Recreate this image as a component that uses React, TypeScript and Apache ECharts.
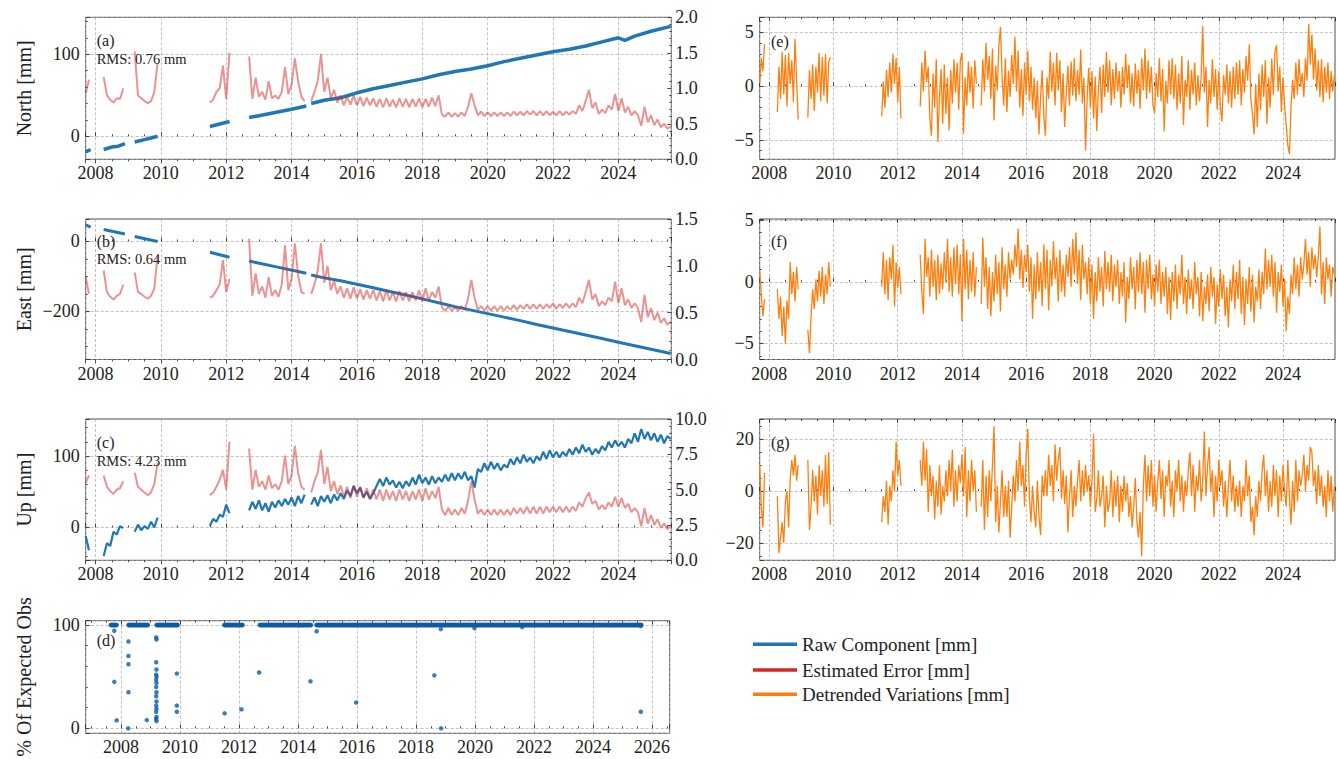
import React, { useEffect, useRef } from "react";
import * as echarts from "echarts";

// ---------------- DATA ----------------
// start year of each continuous data segment (gaps between them)
const SEG_START = [2007.7, 2008.25, 2009.2, 2011.5, 2012.7, 2014.6];
const STEP_FINE = 0.05;
const STEP_MED = 0.1;

// Raw North / East components [year, mm]
const RAW_NORTH = [
  [[2007.7, -19], [2007.85, -16]],
  [[2008.25, -16], [2008.5, -13], [2008.7, -12], [2008.9, -9]],
  [[2009.2, -7], [2009.5, -4], [2009.7, -2], [2009.9, 0]],
  [[2011.5, 12], [2011.8, 15], [2012.1, 18]],
  [[2012.7, 23], [2013.0, 25], [2013.5, 29], [2014.0, 33], [2014.45, 37]],
  [[2014.6, 40], [2015.0, 44], [2015.5, 47], [2016.0, 53], [2016.5, 58], [2017.0, 62], [2017.5, 66], [2018.0, 70], [2018.5, 75], [2019.0, 79], [2019.5, 82], [2020.0, 86], [2020.5, 91], [2021.0, 95], [2021.5, 99], [2022.0, 103], [2022.5, 106], [2023.0, 110], [2023.5, 115], [2024.0, 120], [2024.2, 117], [2024.5, 122], [2025.0, 128], [2025.6, 134]],
];
const RAW_EAST = [
  [[2007.7, 47], [2007.85, 41]],
  [[2008.25, 34], [2008.9, 21]],
  [[2009.2, 14], [2009.9, 0]],
  [[2011.5, -31], [2012.1, -45]],
  [[2012.7, -56], [2013.5, -72], [2014.45, -91]],
  [[2014.6, -96], [2015.0, -104], [2015.5, -112], [2016.0, -122], [2016.5, -132], [2017.0, -143], [2017.5, -153], [2018.0, -164], [2018.5, -175], [2019.0, -186], [2019.5, -196], [2020.0, -206], [2020.5, -216], [2021.0, -226], [2021.5, -237], [2022.0, -247], [2022.5, -257], [2023.0, -267], [2023.5, -277], [2024.0, -288], [2024.5, -298], [2025.0, -308], [2025.6, -320]],
];
// Raw Up, sampled every 0.1 yr per segment
const RAW_UP = [
  [-12, -32],
  [-40, -22, -26, -6, -10, 2, -1],
  [-6, 4, -4, 2, -2, 8, 0, 14],
  [2, 12, 8, 18, 15, 32, 20],
  [24, 36, 26, 38, 24, 34, 22, 36, 28, 38, 30, 40, 32, 42, 30, 44, 34, 46],
  [32, 42, 30, 44, 36, 45, 34, 46, 38, 48,
   40, 52, 44, 58, 48, 56, 42, 50, 40, 48,
   58, 68, 58, 70, 60, 66, 56, 64, 55, 65,
   58, 70, 60, 74, 62, 70, 60, 72, 62, 70,
   64, 74, 65, 76, 66, 76, 68, 78, 66, 72,
   56, 82, 78, 90, 80, 92, 82, 90, 80, 88,
   84, 96, 88, 98, 90, 102, 92, 98, 90, 100,
   94, 106, 96, 108, 98, 106, 98, 106, 100, 110,
   102, 112, 104, 116, 106, 112, 102, 110, 104, 114,
   108, 120, 112, 122, 114, 120, 112, 124, 118, 132,
   120, 138, 124, 134, 122, 132, 120, 130, 118, 128,
   124],
];

// Estimated errors (right axes), sampled every 0.1 yr per segment
const ERR_NORTH = [
  [0.93, 1.12],
  [1.16, 0.9, 0.84, 0.8, 0.86, 0.85, 1.0],
  [1.52, 0.9, 0.86, 0.82, 0.79, 0.82, 0.95, 1.36],
  [0.8, 0.84, 0.95, 1.0, 1.32, 0.85, 1.5],
  [1.45, 0.85, 1.15, 0.88, 0.95, 0.84, 1.1, 0.86, 0.9, 0.85, 0.95, 1.3, 0.92, 1.05, 1.42, 1.1, 0.88, 0.82],
  [0.82, 0.95, 1.1, 1.48, 0.95, 1.15, 0.86, 0.98, 0.8, 0.9,
   0.76, 0.88, 0.77, 0.9, 0.76, 0.88, 0.75, 0.87, 0.76, 0.86,
   0.74, 0.85, 0.73, 0.86, 0.74, 0.84, 0.73, 0.86, 0.74, 0.85,
   0.73, 0.85, 0.74, 0.86, 0.73, 0.85, 0.74, 0.87, 0.75, 0.9,
   0.63, 0.6, 0.66, 0.6, 0.65, 0.6, 0.66, 0.61, 0.74, 0.93,
   0.76, 0.62, 0.67, 0.61, 0.66, 0.61, 0.66, 0.61, 0.66, 0.61,
   0.66, 0.61, 0.67, 0.62, 0.67, 0.62, 0.68, 0.63, 0.68, 0.62,
   0.68, 0.62, 0.68, 0.62, 0.67, 0.62, 0.68, 0.62, 0.67, 0.63,
   0.68, 0.64, 0.76, 0.68, 0.82, 0.98, 0.72, 0.8, 0.64, 0.7,
   0.65, 0.76, 0.7, 0.92, 0.68, 0.86, 0.66, 0.74, 0.62, 0.68,
   0.62, 0.47, 0.74, 0.52, 0.62, 0.48, 0.56, 0.45, 0.5, 0.43,
   0.46],
];
const ERR_EAST = [
  [0.88, 0.7],
  [0.95, 0.72, 0.67, 0.64, 0.68, 0.7, 0.8],
  [0.93, 0.72, 0.7, 0.67, 0.65, 0.68, 0.76, 1.1],
  [0.66, 0.68, 0.74, 0.8, 1.06, 0.72, 0.86],
  [1.29, 0.68, 0.92, 0.7, 0.78, 0.66, 0.88, 0.68, 0.74, 0.67, 0.8, 1.22, 0.74, 0.86, 1.24, 0.9, 0.72, 0.7],
  [0.7, 0.8, 0.95, 1.24, 0.82, 1.0, 0.74, 0.84, 0.7, 0.78,
   0.66, 0.76, 0.65, 0.77, 0.65, 0.75, 0.64, 0.74, 0.65, 0.74,
   0.63, 0.73, 0.62, 0.74, 0.63, 0.72, 0.62, 0.73, 0.63, 0.72,
   0.62, 0.72, 0.63, 0.74, 0.62, 0.76, 0.63, 0.72, 0.66, 0.78,
   0.56, 0.52, 0.57, 0.52, 0.56, 0.52, 0.57, 0.53, 0.65, 0.85,
   0.66, 0.53, 0.57, 0.52, 0.57, 0.52, 0.57, 0.52, 0.57, 0.52,
   0.57, 0.53, 0.58, 0.53, 0.58, 0.54, 0.59, 0.54, 0.59, 0.54,
   0.59, 0.54, 0.59, 0.55, 0.6, 0.54, 0.59, 0.55, 0.6, 0.55,
   0.6, 0.56, 0.66, 0.6, 0.72, 0.85, 0.64, 0.7, 0.57, 0.62,
   0.58, 0.66, 0.62, 0.83, 0.6, 0.76, 0.58, 0.64, 0.55, 0.6,
   0.55, 0.4, 0.69, 0.45, 0.55, 0.42, 0.5, 0.39, 0.44, 0.37,
   0.4],
];
const ERR_UP = [
  [5.5, 6.0],
  [6.0, 5.2, 4.9, 4.7, 5.0, 5.1, 5.6],
  [6.2, 5.2, 5.0, 4.8, 4.6, 4.8, 5.4, 6.9],
  [4.6, 4.8, 5.2, 5.7, 6.4, 5.0, 8.4],
  [7.9, 5.0, 6.4, 5.2, 5.6, 5.0, 6.0, 5.1, 5.4, 5.0, 5.6, 7.4, 5.4, 6.0, 8.1, 6.2, 5.2, 5.0],
  [4.8, 5.6, 6.2, 7.8, 5.4, 6.6, 4.9, 5.6, 4.7, 5.3,
   4.5, 5.2, 4.4, 5.3, 4.5, 5.2, 4.4, 5.1, 4.4, 5.0,
   4.3, 5.0, 4.2, 5.0, 4.3, 4.9, 4.2, 5.0, 4.3, 4.9,
   4.2, 4.9, 4.3, 5.0, 4.2, 5.1, 4.3, 4.9, 4.4, 5.2,
   3.6, 3.2, 3.7, 3.2, 3.6, 3.2, 3.7, 3.3, 4.2, 5.6,
   4.3, 3.3, 3.6, 3.2, 3.6, 3.2, 3.6, 3.2, 3.6, 3.2,
   3.6, 3.2, 3.7, 3.3, 3.7, 3.3, 3.8, 3.3, 3.8, 3.3,
   3.8, 3.3, 3.8, 3.4, 3.8, 3.4, 3.8, 3.4, 3.8, 3.4,
   3.8, 3.5, 4.1, 3.8, 4.4, 4.8, 4.0, 4.2, 3.6, 3.9,
   3.6, 4.1, 3.8, 4.5, 3.8, 4.4, 3.7, 4.0, 3.4, 3.7,
   3.4, 2.4, 3.7, 2.6, 3.2, 2.5, 2.9, 2.3, 2.6, 2.2,
   2.4],
];

// Detrended variations, sampled every 0.05 yr per segment
const DET_NORTH = [
  [0.3, 2.6, 1.4, 3.9],
  [-2.4, 1.8, -1.2, 3.2, -0.8, 2.9, -1.9, 3.1, 0.2, 2.4, -1.5, 4.4, 0.5, -3.1],
  [-2.9, 1.5, -1.2, 2.0, -2.3, 1.8, -0.6, 3.1, -1.4, 2.7, -0.9, 3.0, -1.6, 2.2, 2.7],
  [-2.8, 0.4, -2.0, 1.5, -1.0, 2.2, -0.6, 3.0, 0.2, 2.6, -1.5, 1.8, -3.0],
  [-1.9, 2.2, -0.5, 3.3, 0.4, 1.8, -3.0, -4.6, 1.2, -2.0, 2.5, -5.2, -1.0, 1.6, -3.5, 2.0, -2.6, 0.8, -4.1, 1.5, -1.6, 2.5, -0.6, 2.2, -2.2, 2.4, 3.1, -4.4, 0.8, -1.8, 2.3, -0.6, 1.8, -2.1, 2.4, 0.2],
  [-1.8, 2.5, -0.5, 4.0, 0.6, 2.8, -1.2, 3.5, -3.2, 1.9, -0.4, 3.8, 5.5, 0.9, -1.8, 2.6, -2.4, 1.4, -1.0, 2.9,
   0.2, 4.6, -0.5, 3.3, -2.0, 1.6, -2.8, 2.2, -0.8, 3.3, -1.4, 1.8, -2.2, 0.8, -3.0, 0.5, -4.5, -1.0, 1.5, -2.8,
   -4.6, 0.8, -1.2, 3.2, -0.5, 2.2, -1.8, 3.1, -0.4, 2.4, -2.4, 1.2, -3.8, -0.6, 1.9, -1.8, 2.3, -0.9, 2.6, -1.4,
   1.5, -0.8, 3.4, -1.6, 0.8, -6.0, -1.0, 1.7, -2.0, 1.4, -3.0, 0.9, -4.2, -0.3, 1.8, -2.5, 2.0, -1.0, 3.2, -0.6,
   2.4, -1.8, 1.6, -1.2, 2.2, -0.5, 1.4, -2.0, 1.8, -0.8, 3.0, -0.2, 2.0, -1.6, 1.2, -1.9, 2.1, -0.7, 1.5, -2.1,
   2.6, -0.4, 3.5, -1.2, 2.4, -0.6, 1.8, -1.8, -2.5, 1.2, -1.0, 2.6, -1.4, 1.6, -4.2, 0.5, -1.6, 2.4, -0.8, 2.6,
   -1.2, 2.0, -2.2, 1.2, -1.6, 2.8, -3.6, 0.6, -1.0, 2.4, -2.2, 1.5, -0.8, 2.2, -1.8, 1.0, -1.4, 0.8, 5.6, -0.6,
   1.8, -3.8, 0.6, -1.6, 2.5, -1.0, 1.6, -2.2, 1.4, -1.8, -3.3, 1.0, -0.8, 2.0, -1.6, 1.4, -2.0, 1.8, -1.2, 2.2,
   -0.8, 2.4, -1.8, 1.6, -0.6, 2.8, 0.5, 3.9, -1.2, -2.6, -4.5, 0.2, -3.8, 1.2, -2.2, 2.0, -1.0, 2.4, -3.5, 0.8,
   -2.0, 2.6, -0.8, 3.2, 3.8, -0.5, 1.8, -2.4, 0.8, -1.8, -3.6, -5.5, -6.3, -2.0, 0.6, -1.2, 2.2, -0.8, 2.5, 0.0,
   1.2, -1.0, 2.6, 0.5, 5.8, 2.0, 4.8, 0.6, 3.5, -0.4, 2.4, -1.0, 2.5, -1.5, 1.8, -0.6, 2.2, -1.2, 1.4, -0.5,
   1.0],
];
const DET_EAST = [
  [0.9, -1.0, -2.8, -1.4],
  [-0.6, -3.0, -1.2, -4.4, -2.0, -5.0, -1.5, -3.0, 1.6, -1.0, 0.8, -1.6, 1.2, -0.6],
  [-3.9, -5.8, -2.8, -0.6, -2.2, 0.2, -1.6, 0.9, -1.2, 1.2, -1.8, 0.6, -1.0, 1.6, -0.4],
  [-0.4, 2.4, -1.0, 1.8, -1.5, 2.0, 0.2, 3.0, -2.0, 1.6, -0.5, 1.2, -1.0],
  [2.2, -0.8, -2.6, 3.5, 0.4, 2.0, -1.2, 2.6, -0.4, 1.8, -1.5, 2.2, -1.0, 1.5, -0.6, 2.4, 0.0, 3.5, -0.8, 2.0, -1.2, 2.8, -0.2, 3.0, -1.0, 2.2, -3.2, 3.5, -0.6, 2.6, -1.4, 1.8, -0.8, 2.4, -1.2, 1.2],
  [-1.8, 3.6, -0.4, 2.0, -2.2, 1.2, -2.8, 0.8, -1.6, 2.2, -1.0, 1.6, -2.4, 2.8, -0.6, 1.4, -1.2, 2.4, 0.2, 1.8,
   0.6, 3.0, 1.2, 4.3, 0.2, 2.6, -0.5, 2.2, 0.8, 3.0, -0.8, 2.0, -3.0, 1.4, -1.4, 2.4, -0.8, 1.6, -2.0, 3.0,
   -0.6, 2.6, -2.3, 1.8, -0.4, 3.3, 0.2, 2.0, -1.6, 2.6, -0.8, 1.4, -1.2, 2.2, 0.4, 2.8, -0.4, 3.5, 0.6, 4.0,
   -0.2, 2.6, -1.5, 3.0, 0.2, 1.6, -1.0, 2.0, -1.8, 1.4, -3.0, 0.8, -1.6, 2.0, -0.8, 1.2, -2.0, 2.5, -0.6, 1.6,
   -0.8, 2.2, -1.6, 1.4, -0.4, 1.8, -1.8, 0.8, -1.2, 1.6, -3.3, 0.4, -1.4, 2.0, -0.6, 1.2, -2.2, 1.8, -0.8, 2.4,
   -1.0, 1.6, -2.5, 1.8, -0.6, 2.2, -1.4, 0.6, -2.0, 1.4, -0.8, 1.8, -1.8, 0.8, -1.2, 1.2, -2.6, 0.4, -3.1, 0.8,
   -1.6, 1.4, -2.2, 0.6, -1.0, 2.2, -1.8, 0.4, -2.6, 1.0, -1.4, 0.2, -2.2, 1.6, -1.0, 0.4, -2.8, 0.8, -3.2, -0.4,
   -1.8, 0.6, -2.4, 1.2, -1.2, 0.4, -3.4, -0.2, -2.0, 1.0, -1.4, 0.6, -2.8, -0.4, -3.7, 0.2, -1.6, 1.4, -2.2, 0.8,
   -1.4, 1.8, -2.6, 0.4, -3.5, 0.2, -1.8, 1.2, -2.4, 0.6, -3.3, -0.4, -1.6, 1.0, -2.2, 0.8, -1.0, 2.7, -0.6, 1.8,
   -0.4, 2.2, -1.2, 1.6, -2.5, 0.8, -0.8, 1.4, -2.0, 0.2, -4.0, -1.2, -2.6, 0.6, -1.0, 2.0, -0.6, 1.4, -1.2, 2.0,
   0.2, 1.4, 3.5, 0.6, 2.4, -0.4, 2.8, 1.0, 2.2, 0.4, 2.0, 4.5, -1.0, 1.6, -1.8, 2.0, 0.2, 1.4, -1.2, 1.2,
   0.6],
];
const DET_UP = [
  [10, -6, -14, 7],
  [-2, -24, -18, -12, -20, -4, 0, -14, 5, 12, 6, 14, 4, 10],
  [12, -15, -6, 8, -4, 6, -9, 10, -2, 8, -6, 14, -5, 15, -13],
  [-12, -2, -8, 4, -13, 2, -4, 8, 0, 19, 6, 12, 2],
  [12, 2, 19, 4, 16, -8, 10, -2, 6, -11, 4, -6, 10, -9, 2, -4, 8, -2, 12, 0, 16, -6, 8, -4, 10, 3, 14, -2, 17, -10, 8, -4, 12, 0, 8, -8],
  [-6, 12, -15, 6, -10, 8, -4, 10, 25, -12, 2, -16, -4, 8, -10, 2, -10, 4, -18, -6,
   6, -4, 12, 0, 19, 2, 10, -6, 14, 24, -2, -12, 2, -8, -14, 4, -10, -17, 6, -2,
   8, -2, 14, 2, 10, -4, 18, 4, 12, 17, -3, 8, -5, 6, -16, -2, 8, -10, 2, -6,
   4, 12, -4, 8, -2, 10, 0, 6, -6, 4, 22, -8, -3, 8, -6, -2, 6, -14, 2, -8,
   -4, 8, -10, 4, -6, 6, -12, 2, -8, 6, -4, 3, -10, -2, -14, -6, 5, -12, -18, -8,
   -25, 2, 14, -4, 10, -2, 12, -6, 6, -8, 4, 12, -3, 8, -10, 6, 2, 12, -6, 4,
   -10, 8, 0, 12, -4, 6, -8, 4, -2, 8, 15, -2, 10, -8, 6, 0, 12, -4, 4, 23,
   -2, 10, 17, 0, 8, -10, 6, -4, 12, 2, 8, -6, 4, -10, 2, 12, -4, 6, -8, 2,
   -6, 4, -10, 2, -4, 12, -2, 6, -12, -6, -17, -2, -10, 4, -4, 8, 14, -2, 8, -8,
   4, -6, 10, -2, 8, -10, 6, -4, 10, 0, -6, 12, -2, -13, 4, -8, 12, -4, 8, 2,
   6, 14, 0, 10, 4, 17, 15, 2, 8, -5, 10, -2, 6, -6, 2, -10, 8, -4, 6, -8,
   2],
];

// % of expected observations
const OBS_FULL_RUNS = [[2007.65, 2007.86], [2008.25, 2008.92], [2009.2, 2009.92], [2011.5, 2012.12], [2012.7, 2014.45], [2014.62, 2025.65]];
const OBS_FULL_VALUE = 100;
const OBS_OUTLIERS = [
  [2007.77, 94.5], [2007.77, 45], [2007.85, 7.7], [2008.25, 84], [2008.25, 70], [2008.25, 62], [2008.25, 35], [2008.24, 0],
  [2008.87, 8], [2009.19, 88], [2009.2, 86], [2009.19, 64], [2009.2, 57], [2009.19, 52], [2009.2, 50], [2009.19, 47],
  [2009.2, 44], [2009.19, 40], [2009.2, 35], [2009.19, 31], [2009.2, 26], [2009.19, 22], [2009.2, 19], [2009.19, 16],
  [2009.2, 11], [2009.19, 9], [2009.2, 7], [2009.89, 53], [2009.89, 22], [2009.89, 16], [2011.51, 14.5], [2012.08, 18.4],
  [2012.68, 54], [2014.42, 45.5], [2014.63, 94], [2015.97, 25], [2018.62, 51.3], [2018.84, 96], [2018.85, 0],
  [2019.98, 97], [2021.6, 98], [2025.62, 99], [2025.62, 16],
];

const PANEL_TAGS = ["(a)", "(b)", "(c)", "(d)", "(e)", "(f)", "(g)"];
const RMS_TEXTS = ["RMS: 0.76 mm", "RMS: 0.64 mm", "RMS: 4.23 mm"];
const COMPONENT_NAMES = ["North [mm]", "East [mm]", "Up [mm]"];
const OBS_NAME = "% Of Expected Obs";
const LEGEND_ITEMS = ["Raw Component [mm]", "Estimated Error [mm]", "Detrended Variations [mm]"];

// ---------------- HELPERS ----------------
const FONT = "Liberation Serif";
const C_BLUE = "#1f77b4";
const C_RED = "#d62728";
const C_ORANGE = "#ff7f0e";
const C_DOT = "#0C5DA5";
const TICK = { color: "#222", width: 0.8 };
const GRIDLINE = { color: "#a8a8a8", width: 0.7, type: [3, 2] };

function joinPairs(segs: number[][][]) {
  const out: any[] = [];
  segs.forEach((s, k) => {
    if (k > 0) out.push([s[0][0] - 0.01, null]);
    s.forEach((p) => out.push(p));
  });
  return out;
}
function joinStepped(segs: number[][], step: number) {
  const out: any[] = [];
  segs.forEach((s, k) => {
    if (k > 0) out.push([SEG_START[k] - 0.01, null]);
    s.forEach((v, i) => out.push([+(SEG_START[k] + i * step).toFixed(4), v]));
  });
  return out;
}
function obsData() {
  const out: number[][] = [];
  OBS_FULL_RUNS.forEach(([a, b]) => {
    for (let x = a; x <= b + 1e-9; x += 0.02) out.push([+x.toFixed(4), OBS_FULL_VALUE]);
  });
  OBS_OUTLIERS.forEach((p) => out.push(p));
  return out;
}
const fmtNum = (v: number) => (v < 0 ? "\u2212" + Math.abs(Math.round(v)) : String(Math.round(v)));
const onStep = (v: number, iv: number) => Math.abs(v / iv - Math.round(v / iv)) < 1e-6;

const GRIDS = [
  { left: 85.7, top: 17.3, width: 585.6, height: 142 },
  { left: 85.7, top: 219, width: 585.6, height: 140.5 },
  { left: 85.7, top: 419, width: 585.6, height: 141.3 },
  { left: 85.7, top: 620.7, width: 584, height: 112.6 },
  { left: 759.7, top: 17.3, width: 585.6, height: 142 },
  { left: 759.7, top: 219, width: 585.6, height: 140.5 },
  { left: 759.7, top: 419, width: 585.6, height: 141.3 },
];
const X_RANGE = [2007.7, 2025.62];
const X_RANGE_OBS = [2006.8, 2026.6];

function xAxis(grid: number, range: number[], top: boolean) {
  return {
    type: "value", gridIndex: grid, min: range[0], max: range[1], minInterval: 2, maxInterval: 2,
    position: top ? "top" : "bottom",
    axisLine: { show: false },
    axisTick: { show: true, inside: true, length: 4, lineStyle: TICK },
    minorTick: { show: true, splitNumber: 4, length: 2, lineStyle: TICK },
    axisLabel: {
      show: !top, margin: 5, fontSize: 18, fontFamily: FONT, color: "#222",
      formatter: (v: number) => (onStep(v, 2) ? String(Math.round(v)) : ""),
    },
    splitLine: { show: !top, lineStyle: GRIDLINE },
  };
}
function yLeft(grid: number, min: number, max: number, iv: number, minor: number, name: string) {
  return {
    type: "value", gridIndex: grid, min, max, minInterval: iv, maxInterval: iv, position: "left",
    name, nameLocation: "middle", nameGap: 52,
    nameTextStyle: { fontSize: 20, fontFamily: FONT, color: "#222" },
    axisLine: { show: false },
    axisTick: { show: true, inside: true, length: 4, lineStyle: TICK },
    minorTick: { show: true, splitNumber: minor, length: 2, lineStyle: TICK },
    axisLabel: {
      margin: 6, fontSize: 18, fontFamily: FONT, color: "#222",
      formatter: (v: number) => (onStep(v, iv) ? fmtNum(v) : ""),
    },
    splitLine: { show: true, lineStyle: GRIDLINE },
  };
}
function yRight(grid: number, max: number, iv: number) {
  return {
    type: "value", gridIndex: grid, min: 0, max, interval: iv, position: "right",
    axisLine: { show: false },
    axisTick: { show: true, inside: true, length: 4, lineStyle: TICK },
    minorTick: { show: true, splitNumber: 5, length: 2, lineStyle: TICK },
    axisLabel: { margin: 4, fontSize: 18, fontFamily: FONT, color: "#222", formatter: (v: number) => v.toFixed(1) },
    splitLine: { show: false },
  };
}
function line(name: string, data: any[], xi: number, yi: number, color: string, width: number, opacity = 1) {
  return {
    type: "line", name, data, xAxisIndex: xi, yAxisIndex: yi, showSymbol: false, symbol: "none",
    connectNulls: false, silent: true, animation: false,
    lineStyle: { color, width, opacity }, itemStyle: { color },
  };
}

function buildOption() {
  const grids = GRIDS.map((g) => ({ ...g, show: true, borderColor: "#222", borderWidth: 0.8, backgroundColor: "transparent" }));
  const xAxes: any[] = [];
  for (let i = 0; i < 7; i++) xAxes.push(xAxis(i, i === 3 ? X_RANGE_OBS : X_RANGE, false));
  for (let i = 0; i < 7; i++) xAxes.push(xAxis(i, i === 3 ? X_RANGE_OBS : X_RANGE, true));
  const yAxes = [
    yLeft(0, -28, 145, 100, 5, COMPONENT_NAMES[0]), yRight(0, 2, 0.5),
    yLeft(1, -337, 64, 200, 4, COMPONENT_NAMES[1]), yRight(1, 1.5, 0.5),
    yLeft(2, -46, 152, 100, 5, COMPONENT_NAMES[2]), yRight(2, 10, 2.5),
    yLeft(3, -4.8, 104.2, 100, 5, OBS_NAME),
    yLeft(4, -6.8, 6.4, 5, 5, ""),
    yLeft(5, -6.3, 5.1, 5, 5, ""),
    yLeft(6, -26.7, 27.8, 20, 4, ""),
  ];
  const series: any[] = [
    line("Raw North", joinPairs(RAW_NORTH), 0, 0, C_BLUE, 3.5),
    line("Error North", joinStepped(ERR_NORTH, STEP_MED), 0, 1, C_RED, 2, 0.5),
    line("Raw East", joinPairs(RAW_EAST), 1, 2, C_BLUE, 3),
    line("Error East", joinStepped(ERR_EAST, STEP_MED), 1, 3, C_RED, 2, 0.5),
    line("Raw Up", joinStepped(RAW_UP, STEP_MED), 2, 4, C_BLUE, 2.2),
    line("Error Up", joinStepped(ERR_UP, STEP_MED), 2, 5, C_RED, 2, 0.5),
    {
      type: "scatter", name: "Obs", data: obsData(), xAxisIndex: 3, yAxisIndex: 6,
      symbolSize: 4.5, itemStyle: { color: C_DOT }, silent: true, animation: false,
    },
    line("Detrended North", joinStepped(DET_NORTH, STEP_FINE), 4, 7, C_ORANGE, 1.3),
    line("Detrended East", joinStepped(DET_EAST, STEP_FINE), 5, 8, C_ORANGE, 1.3),
    line("Detrended Up", joinStepped(DET_UP, STEP_FINE), 6, 9, C_ORANGE, 1.3),
  ];

  const graphic: any[] = [];
  const tagPos = [[96.7, 40.7], [96.7, 241.3], [96.7, 442.7], [96.7, 640], [771, 41], [771, 241.7], [771, 442.7]];
  PANEL_TAGS.forEach((t, i) => {
    graphic.push({ type: "text", x: tagPos[i][0], y: tagPos[i][1], z: 10,
      style: { text: t, fontSize: 16, fontFamily: FONT, fill: "#222", textAlign: "left", textVerticalAlign: "middle" } });
  });
  const rmsY = [59.3, 259.3, 460.7];
  RMS_TEXTS.forEach((t, i) => {
    graphic.push({ type: "text", x: 96.7, y: rmsY[i], z: 10,
      style: { text: t, fontSize: 14.5, fontFamily: FONT, fill: "#222", textAlign: "left", textVerticalAlign: "middle" } });
  });
  const legColors = [C_BLUE, C_RED, C_ORANGE];
  const legY = [644.3, 670, 694.3];
  LEGEND_ITEMS.forEach((t, i) => {
    graphic.push({ type: "line", shape: { x1: 753, y1: legY[i], x2: 797, y2: legY[i] }, style: { stroke: legColors[i], lineWidth: 3.5 } });
    graphic.push({ type: "text", x: 802, y: legY[i],
      style: { text: t, fontSize: 19, fontFamily: FONT, fill: "#222", textAlign: "left", textVerticalAlign: "middle" } });
  });

  return { animation: false, backgroundColor: "#fff", grid: grids, xAxis: xAxes, yAxis: yAxes, series, graphic };
}

export default function App() {
  const ref = useRef<HTMLDivElement>(null);
  useEffect(() => {
    const chart = echarts.init(ref.current!, null, { renderer: "svg" });
    chart.setOption(buildOption() as any);
    return () => chart.dispose();
  }, []);
  return (
    <div style={{ position: "fixed", left: 0, top: 0, width: 1338, height: 759, overflow: "hidden", background: "#fff" }}>
      <div ref={ref} style={{ width: 1338, height: 759 }} />
    </div>
  );
}
